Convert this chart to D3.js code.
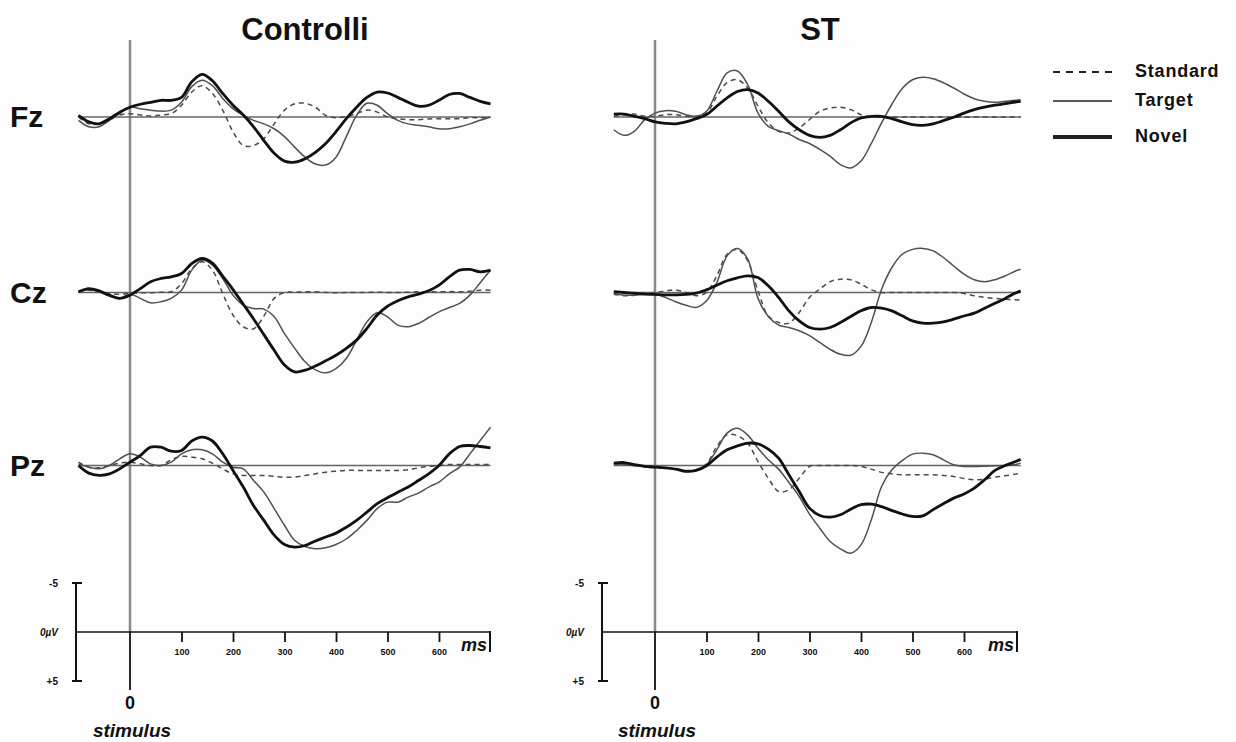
<!DOCTYPE html>
<html>
<head>
<meta charset="utf-8">
<script src="https://cdn.jsdelivr.net/npm/d3@7"></script>
<style>
  body { margin: 0; background: #fff; }
  svg { display: block; }
  text { font-family: "Liberation Sans", Arial, sans-serif; font-weight: bold; fill: #111; }
</style>
</head>
<body>
<svg id="erp" width="1236" height="742"></svg>
<script>
// time points (ms) for each group
const timesControlli = [-100,-80,-60,-40,-20,0,20,40,60,80,100,120,140,160,180,200,220,240,260,280,300,320,340,360,380,400,420,440,460,480,500,520,540,560,580,600,620,640,660,680,700];
const timesST = [-80,-60,-40,-20,0,20,40,60,80,100,120,140,160,180,200,220,240,260,280,300,320,340,360,380,400,420,440,460,480,500,520,540,560,580,600,620,640,660,680,700,710];

const groups = ["Controlli", "ST"];
const channels = ["Fz", "Cz", "Pz"];
const conditions = ["Standard", "Target", "Novel"];
const timeTicks = [100, 200, 300, 400, 500, 600];

// amplitudes in µV (negative plotted up)
const controlliFzStandard = [0,0.7,0.7,0.3,-0.2,-0.34,-0.2,-0.1,-0.2,-0.34, -1.2,-2.55,-3.2,-2.4,-0.7,1.5,2.9,2.9,2.2,0.7, -0.7,-1.35,-1.4,-1.0,-0.17,0.07,-0.07,-0.34,-0.7,-0.5, 0,0.17,0.27,0.27,0.2,0.17,0.17,0.17,0.07,0.07, 0.07];
const controlliFzTarget = [0.34,1.0,1.0,0.34,-0.34,-1.0,-0.85,-0.7,-0.6,-0.7, -1.5,-3.1,-3.75,-3.2,-1.9,-0.85,-0.17,0.34,0.7,1.2, 2.0,3.1,4.1,4.8,4.9,4.1,2.0,-0.17,-1.4,-1.2, -0.34,0.34,0.7,0.85,1.0,1.2,1.2,1.0,0.7,0.34, 0];
const controlliFzNovel = [-0.17,0.5,0.7,0.17,-0.5,-1.0,-1.3,-1.5,-1.7,-1.7, -2.0,-3.6,-4.35,-3.7,-2.4,-1.2,-0.2,1.0,2.4,3.7, 4.5,4.6,4.25,3.6,2.7,1.5,0.17,-1.0,-2.0,-2.55, -2.45,-2.0,-1.5,-1.1,-1.2,-1.7,-2.3,-2.4,-2.0,-1.6, -1.35];

const controlliCzStandard = [-0.07,-0.24,-0.07,0.1,0.17,0.1,0.03,0.03,-0.03,-0.07, -0.9,-2.45,-3.13,-2.28,0.1,2.3,3.5,3.7,2.4,0.6, 0,-0.03,-0.07,-0.07,0,0.03,0,0,0,-0.03, 0,0,-0.03,-0.07,-0.07,-0.07,-0.1,-0.07,-0.14,-0.24, -0.24];
const controlliCzTarget = [-0.07,-0.3,-0.07,0.37,0.6,0.17,0.6,1.05,0.95,0.6, -0.24,-2.28,-3.3,-2.8,-1.43,0.27,1.3,1.63,1.7,2.48, 4.2,5.7,7.07,7.9,8.2,7.76,6.73,4.86,3.0,2.07, 2.48,3.33,3.5,3.16,2.55,1.97,1.53,1.12,0.27,-1.0, -2.28];
const controlliCzNovel = [-0.07,-0.4,-0.17,0.27,0.6,0.27,-0.4,-1.1,-1.43,-1.6, -1.94,-2.96,-3.47,-3.0,-1.67,-0.3,1.2,2.7,4.3,5.9, 7.4,8.1,7.93,7.5,6.97,6.4,5.7,4.86,3.67,2.3, 1.4,0.85,0.44,0.17,-0.17,-0.75,-1.6,-2.28,-2.35,-2.1, -2.28];

const controlliPzStandard = [-0.34,0.17,0.24,0,-0.24,-0.34,-0.17,0,0,-0.58, -0.92,-0.85,-0.68,-0.24,0.34,0.85,1.02,1.02,1.02,1.1, 1.19,1.19,1.02,0.85,0.68,0.58,0.5,0.5,0.5,0.5, 0.5,0.5,0.44,0.24,0.1,0,-0.1,-0.1,-0.1,-0.1, -0.1];
const controlliPzTarget = [-0.17,0.17,0.34,0,-0.68,-1.19,-0.85,-0.17,0,-0.34, -1.19,-1.6,-1.6,-1.19,-0.34,0.17,0.34,1.53,2.72,4.4, 6.1,7.65,8.27,8.5,8.4,8.06,7.5,6.63,5.6,4.4, 3.74,3.74,3.23,2.82,2.2,1.7,0.85,0.17,-1.19,-2.55, -3.9];
const controlliPzNovel = [0,0.78,1.0,0.85,0.34,-0.34,-1.02,-1.87,-1.87,-1.46, -1.53,-2.5,-2.9,-2.5,-1.2,0.5,2.2,4.1,5.6,7.1, 8.06,8.33,8.16,7.7,7.3,6.9,6.3,5.6,4.76,3.9, 3.3,2.72,2.2,1.53,0.85,0,-1.19,-1.94,-2.04,-1.94, -1.8];

const stFzStandard = [-0.07,-0.24,-0.3,-0.07,-0.07,-0.24,-0.24,-0.07,-0.07,-0.4, -2.1,-3.5,-3.8,-2.96,-1.1,0.6,1.46,1.63,1.12,0.27, -0.58,-0.92,-1.0,-0.75,-0.24,0,0.03,0.03,0,0, 0,0,0,0.03,0,0,0,0,0,0, 0];
const stFzTarget = [1.3,1.87,1.46,0.27,-0.4,-0.65,-0.58,-0.24,-0.07,-0.58, -2.6,-4.5,-4.7,-3.3,-0.4,0.95,1.4,1.73,2.3,2.7, 3.3,4.0,4.86,5.2,4.5,2.7,0.6,-1.3,-2.9,-3.8, -4.05,-3.9,-3.5,-2.96,-2.35,-1.87,-1.6,-1.5,-1.6,-1.7, -1.77];
const stFzNovel = [-0.3,-0.3,-0.07,0.17,0.5,0.65,0.7,0.5,0.17,-0.24, -1.1,-1.95,-2.6,-2.8,-2.45,-1.6,-0.58,0.5,1.3,1.87, 2.07,1.87,1.3,0.6,0.1,-0.07,-0.07,0.17,0.5,0.78, 0.85,0.7,0.37,0.03,-0.4,-0.75,-1.0,-1.2,-1.36,-1.53, -1.6];

const stCzStandard = [0.17,0.34,0.27,0.07,0,-0.17,-0.27,0,0.34,0, -1.7,-3.9,-4.4,-3.23,-0.17,2.4,3.06,3.13,2.04,0.5, -0.34,-1.1,-1.36,-1.3,-0.85,-0.27,0,0,0,0, 0,0,0,0,0.1,0.34,0.5,0.6,0.68,0.75, 0.75];
const stCzTarget = [0.07,0.27,0.27,0.17,0.17,0.5,0.95,1.3,1.53,0.85, -1.0,-3.74,-4.5,-3.4,0.6,2.45,3.33,3.57,3.9,4.4, 5.1,5.8,6.3,6.4,5.5,3.06,-0.34,-2.55,-3.9,-4.4, -4.5,-4.25,-3.57,-2.7,-1.87,-1.3,-1.1,-1.3,-1.7,-2.2, -2.38];
const stCzNovel = [-0.1,0,0.07,0.17,0.2,0.24,0.24,0.2,0.07,-0.27, -0.75,-1.2,-1.5,-1.7,-1.53,-0.68,0.5,1.87,2.9,3.57, 3.74,3.57,3.06,2.45,1.87,1.53,1.6,1.87,2.38,2.9, 3.13,3.13,3.0,2.72,2.4,2.1,1.6,1.1,0.6,0.05, -0.17];

const stPzStandard = [-0.17,-0.1,0,0.1,0.17,0.24,0.3,0.5,0.44,-0.17, -1.94,-3.13,-3.03,-2.28,-0.4,1.3,2.65,2.48,1.3,0.1, 0,0,0,0,0.1,0.37,0.7,0.85,0.95,0.95, 0.95,0.95,1.02,1.12,1.33,1.46,1.4,1.19,1.05,0.88, 0.78];
const stPzTarget = [-0.17,-0.1,0,0.1,0.17,0.24,0.37,0.6,0.5,-0.07, -1.6,-3.3,-3.8,-3.1,-1.77,-0.58,0.37,1.73,3.16,4.97, 6.4,7.76,8.5,8.95,8.1,5.54,2.14,0.44,-0.5,-1.16, -1.26,-1.1,-0.58,-0.07,0.1,0.1,0.07,0.03,0,-0.1, -0.24];
const stPzNovel = [-0.24,-0.3,-0.1,0.1,0.17,0.24,0.37,0.6,0.5,0.03, -0.85,-1.6,-2.0,-2.28,-2.2,-1.67,-0.75,0.95,2.65,4.35, 5.1,5.27,5.03,4.46,4.0,3.95,4.2,4.6,4.95,5.2, 5.14,4.5,3.9,3.33,2.9,2.3,1.46,0.5,0,-0.4, -0.65];

// table built from the arrays above
const waves = {
  Controlli: {
    Fz: [controlliFzStandard, controlliFzTarget, controlliFzNovel],
    Cz: [controlliCzStandard, controlliCzTarget, controlliCzNovel],
    Pz: [controlliPzStandard, controlliPzTarget, controlliPzNovel],
  },
  ST: {
    Fz: [stFzStandard, stFzTarget, stFzNovel],
    Cz: [stCzStandard, stCzTarget, stCzNovel],
    Pz: [stPzStandard, stPzTarget, stPzNovel],
  },
};
const groupTimes = { Controlli: timesControlli, ST: timesST };

// layout
const svg = d3.select("#erp");
const panelLayout = {
  Controlli: { stimX: 130, tick600: 439, barX: 76, endX: 490, titleX: 305 },
  ST: { stimX: 655, tick600: 964, barX: 602, endX: 1017, titleX: 820 },
};
const rowBase = { Fz: 117, Cz: 292.5, Pz: 465.5 };
const halfRange = 49; // px for 5 µV
const axisY = 632;

const lineStyle = {
  Standard: { stroke: "#4a4a4a", width: 1.5, dash: "5,4" },
  Target: { stroke: "#505050", width: 1.5, dash: null },
  Novel: { stroke: "#111", width: 2.8, dash: null },
};

svg.append("rect").attr("width", 1236).attr("height", 742).attr("fill", "#fdfdfd");

// row labels
channels.forEach((ch) => {
  svg.append("text")
    .attr("x", 10)
    .attr("y", rowBase[ch] + 10)
    .attr("font-size", "30px")
    .text(ch);
});

groups.forEach((grp) => {
  const L = panelLayout[grp];
  const times = groupTimes[grp];
  const x = d3.scaleLinear().domain([0, 600]).range([L.stimX, L.tick600]);
  const g = svg.append("g");

  // title
  g.append("text")
    .attr("x", L.titleX)
    .attr("y", 40)
    .attr("text-anchor", "middle")
    .attr("font-size", "31px")
    .text(grp);

  // stimulus line
  g.append("line")
    .attr("x1", x(0)).attr("x2", x(0))
    .attr("y1", 40).attr("y2", axisY)
    .attr("stroke", "#8a8a8a").attr("stroke-width", 2.5);
  g.append("line")
    .attr("x1", x(0)).attr("x2", x(0))
    .attr("y1", axisY).attr("y2", 690)
    .attr("stroke", "#111").attr("stroke-width", 1.8);

  // rows
  channels.forEach((ch) => {
    const base = rowBase[ch];
    const y = d3.scaleLinear().domain([-5, 5]).range([base - halfRange, base + halfRange]);

    g.append("line")
      .attr("x1", x(times[0])).attr("x2", x(times[times.length - 1]))
      .attr("y1", y(0)).attr("y2", y(0))
      .attr("stroke", "#666").attr("stroke-width", 1.3);

    const line = d3.line()
      .x((d, i) => x(times[i]))
      .y((d) => y(d))
      .curve(d3.curveCatmullRom.alpha(0.5));

    conditions.forEach((cond, ci) => {
      const st = lineStyle[cond];
      g.append("path")
        .datum(waves[grp][ch][ci])
        .attr("d", line)
        .attr("fill", "none")
        .attr("stroke", st.stroke)
        .attr("stroke-width", st.width)
        .attr("stroke-dasharray", st.dash)
        .attr("stroke-linejoin", "round");
    });
  });

  // time axis
  const xAxis = d3.axisBottom(x)
    .tickValues(timeTicks)
    .tickSize(10)
    .tickPadding(7)
    .tickFormat(d3.format("d"));
  const ax = g.append("g")
    .attr("transform", `translate(0, ${axisY})`)
    .call(xAxis);
  ax.select(".domain").remove();
  ax.selectAll(".tick line").attr("stroke", "#111").attr("stroke-width", 1.8);
  ax.selectAll(".tick text")
    .attr("font-size", "9px")
    .attr("font-family", "Liberation Sans, Arial, sans-serif")
    .attr("font-weight", "bold")
    .attr("fill", "#444");

  g.append("line")
    .attr("x1", L.barX).attr("x2", L.endX)
    .attr("y1", axisY).attr("y2", axisY)
    .attr("stroke", "#111").attr("stroke-width", 1.6);
  g.append("line")
    .attr("x1", L.endX).attr("x2", L.endX)
    .attr("y1", axisY - 1).attr("y2", axisY + 20)
    .attr("stroke", "#111").attr("stroke-width", 2);
  g.append("text")
    .attr("x", L.endX - 3)
    .attr("y", axisY + 19)
    .attr("text-anchor", "end")
    .attr("font-size", "18px")
    .attr("font-style", "italic")
    .text("ms");

  // amplitude scale bar
  const yBar = d3.scaleLinear().domain([-5, 5]).range([axisY - halfRange, axisY + halfRange]);
  g.append("line")
    .attr("x1", L.barX).attr("x2", L.barX)
    .attr("y1", yBar(-5)).attr("y2", yBar(5))
    .attr("stroke", "#111").attr("stroke-width", 2);
  [-5, 5].forEach((v) => {
    g.append("line")
      .attr("x1", L.barX - 4).attr("x2", L.barX + 6)
      .attr("y1", yBar(v)).attr("y2", yBar(v))
      .attr("stroke", "#111").attr("stroke-width", 2);
  });
  const barLabels = [
    { v: -5, t: "-5", italic: false },
    { v: 0, t: "0µV", italic: true },
    { v: 5, t: "+5", italic: false },
  ];
  barLabels.forEach((b) => {
    g.append("text")
      .attr("x", L.barX - 18)
      .attr("y", yBar(b.v) + 4)
      .attr("text-anchor", "end")
      .attr("font-size", "10px")
      .attr("font-style", b.italic ? "italic" : "normal")
      .attr("fill", "#333")
      .text(b.t);
  });

  // stimulus labels
  g.append("text")
    .attr("x", x(0))
    .attr("y", 709)
    .attr("text-anchor", "middle")
    .attr("font-size", "18px")
    .text("0");
  g.append("text")
    .attr("x", x(0) + 2)
    .attr("y", 737)
    .attr("text-anchor", "middle")
    .attr("font-size", "19px")
    .attr("font-style", "italic")
    .text("stimulus");
});

// legend
const legendY = { Standard: 72, Target: 101, Novel: 137 };
conditions.forEach((cond) => {
  svg.append("line")
    .attr("x1", 1053).attr("x2", 1112)
    .attr("y1", legendY[cond]).attr("y2", legendY[cond])
    .attr("stroke", "#222")
    .attr("stroke-width", cond === "Novel" ? 4 : cond === "Standard" ? 2 : 1.5)
    .attr("stroke-dasharray", cond === "Standard" ? "7,6" : null);
  svg.append("text")
    .attr("x", 1135)
    .attr("y", legendY[cond] + 5)
    .attr("font-size", "18px")
    .attr("letter-spacing", "0.8px")
    .attr("fill", "#222")
    .text(cond);
});
</script>
</body>
</html>
